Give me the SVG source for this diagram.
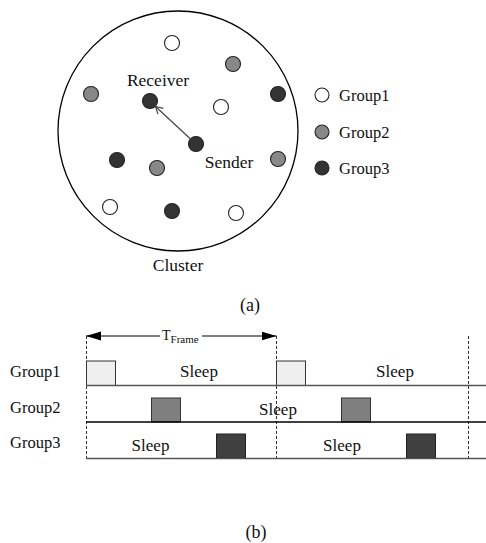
<svg xmlns="http://www.w3.org/2000/svg" width="486" height="543" viewBox="0 0 486 543">
  <defs>
    <marker id="openArrow" markerWidth="10" markerHeight="10" refX="8" refY="5" orient="auto" markerUnits="userSpaceOnUse">
      <path d="M1,1 L8,5 L1,9" fill="none" stroke="#444" stroke-width="1.2"/>
    </marker>
    <marker id="solidArrow" markerWidth="16" markerHeight="10" refX="15" refY="5" orient="auto-start-reverse" markerUnits="userSpaceOnUse">
      <path d="M0,0.5 L15,5 L0,9.5 Z" fill="#000"/>
    </marker>
  </defs>
  <style>
    text { font-family: "Liberation Serif", "Times New Roman", serif; fill: #111; }
    .lbl { font-size: 17.5px; }
    .grp { font-size: 16.5px; }
    .sleep { font-size: 17px; }
    .g1 { fill: #ffffff; stroke: #222; stroke-width: 1.1; }
    .g2 { fill: #888888; stroke: #222; stroke-width: 1.1; }
    .g3 { fill: #333333; stroke: #222; stroke-width: 1.1; }
    .slot1 { fill: #efefef; stroke: #333; stroke-width: 1; }
    .slot2 { fill: #7f7f7f; stroke: #333; stroke-width: 1; }
    .slot3 { fill: #404040; stroke: #222; stroke-width: 1; }
    .dash { stroke: #333; stroke-width: 1; stroke-dasharray: 3,2; fill: none; }
    .axis { stroke: #555; stroke-width: 1.3; fill: none; }
  </style>

  <!-- (a) cluster of sensor nodes -->
  <g id="cluster">
    <circle cx="178" cy="131" r="120" fill="none" stroke="#000" stroke-width="1.3"/>
    <text class="lbl" x="178" y="271" text-anchor="middle">Cluster</text>
  </g>

  <g id="nodes">
    <circle class="g1" cx="172" cy="43" r="7.5"/>
    <circle class="g2" cx="233" cy="64" r="7.5"/>
    <circle class="g2" cx="91" cy="94" r="7.5"/>
    <circle class="g1" cx="221" cy="107" r="7.5"/>
    <circle class="g3" cx="278" cy="94" r="7.5"/>
    <circle class="g3" cx="117" cy="160" r="7.5"/>
    <circle class="g2" cx="157" cy="168" r="7.5"/>
    <circle class="g2" cx="278" cy="159" r="7.5"/>
    <circle class="g1" cx="110" cy="207" r="7.5"/>
    <circle class="g3" cx="172" cy="211" r="7.5"/>
    <circle class="g1" cx="236" cy="213" r="7.5"/>
  </g>

  <g id="receiver">
    <circle class="g3" cx="150" cy="101" r="7.5"/>
    <text class="lbl" x="158" y="86" text-anchor="middle">Receiver</text>
  </g>

  <g id="sender">
    <circle class="g3" cx="196" cy="144" r="7.5"/>
    <text class="lbl" x="229" y="168" text-anchor="middle">Sender</text>
  </g>

  <g id="connectors">
    <line x1="190" y1="138.5" x2="155.5" y2="106.5" stroke="#444" stroke-width="1.2" marker-end="url(#openArrow)"/>
  </g>

  <g id="legend">
    <circle class="g1" cx="322" cy="95" r="7"/>
    <text class="grp" x="339" y="100.5">Group1</text>
    <circle class="g2" cx="322" cy="132" r="7"/>
    <text class="grp" x="339" y="137.5">Group2</text>
    <circle class="g3" cx="322" cy="168" r="7"/>
    <text class="grp" x="339" y="173.5">Group3</text>
  </g>

  <text x="250" y="311" font-size="18" text-anchor="middle">(a)</text>

  <!-- (b) schedule of active slots per group -->
  <g id="frame-marker">
    <line x1="86" y1="336" x2="160" y2="336" stroke="#000" stroke-width="1" marker-start="url(#solidArrow)"/>
    <line x1="202" y1="336" x2="276.5" y2="336" stroke="#000" stroke-width="1" marker-end="url(#solidArrow)"/>
    <text x="162" y="340" font-size="14">T<tspan font-size="11" dy="3">Frame</tspan></text>
  </g>

  <g id="frame-bounds">
    <line class="dash" x1="86.5" y1="336" x2="86.5" y2="458"/>
    <line class="dash" x1="276.5" y1="336" x2="276.5" y2="458"/>
    <line class="dash" x1="468.5" y1="336" x2="468.5" y2="458"/>
  </g>

  <g id="row-group1">
    <text class="grp" x="10" y="377">Group1</text>
    <rect class="slot1" x="86.5" y="361" width="29" height="24.5"/>
    <rect class="slot1" x="276.5" y="361" width="29" height="24.5"/>
    <line class="axis" x1="86" y1="385.5" x2="486" y2="385.5"/>
    <text class="sleep" x="199" y="377" text-anchor="middle">Sleep</text>
    <text class="sleep" x="395" y="377" text-anchor="middle">Sleep</text>
  </g>

  <g id="row-group2">
    <text class="grp" x="10" y="413">Group2</text>
    <rect class="slot2" x="151.5" y="398" width="29" height="24"/>
    <rect class="slot2" x="341.5" y="398" width="29" height="24"/>
    <line x1="86" y1="422" x2="486" y2="422" stroke="#000" stroke-width="1.3"/>
    <text class="sleep" x="278" y="415" text-anchor="middle">Sleep</text>
  </g>

  <g id="row-group3">
    <text class="grp" x="10" y="448">Group3</text>
    <rect class="slot3" x="216.5" y="434" width="29" height="24"/>
    <rect class="slot3" x="406.5" y="434" width="29" height="24"/>
    <line class="axis" x1="86" y1="458.5" x2="486" y2="458.5"/>
    <text class="sleep" x="150.5" y="451" text-anchor="middle">Sleep</text>
    <text class="sleep" x="342" y="451" text-anchor="middle">Sleep</text>
  </g>

  <text x="256" y="538" font-size="18" text-anchor="middle">(b)</text>
</svg>
